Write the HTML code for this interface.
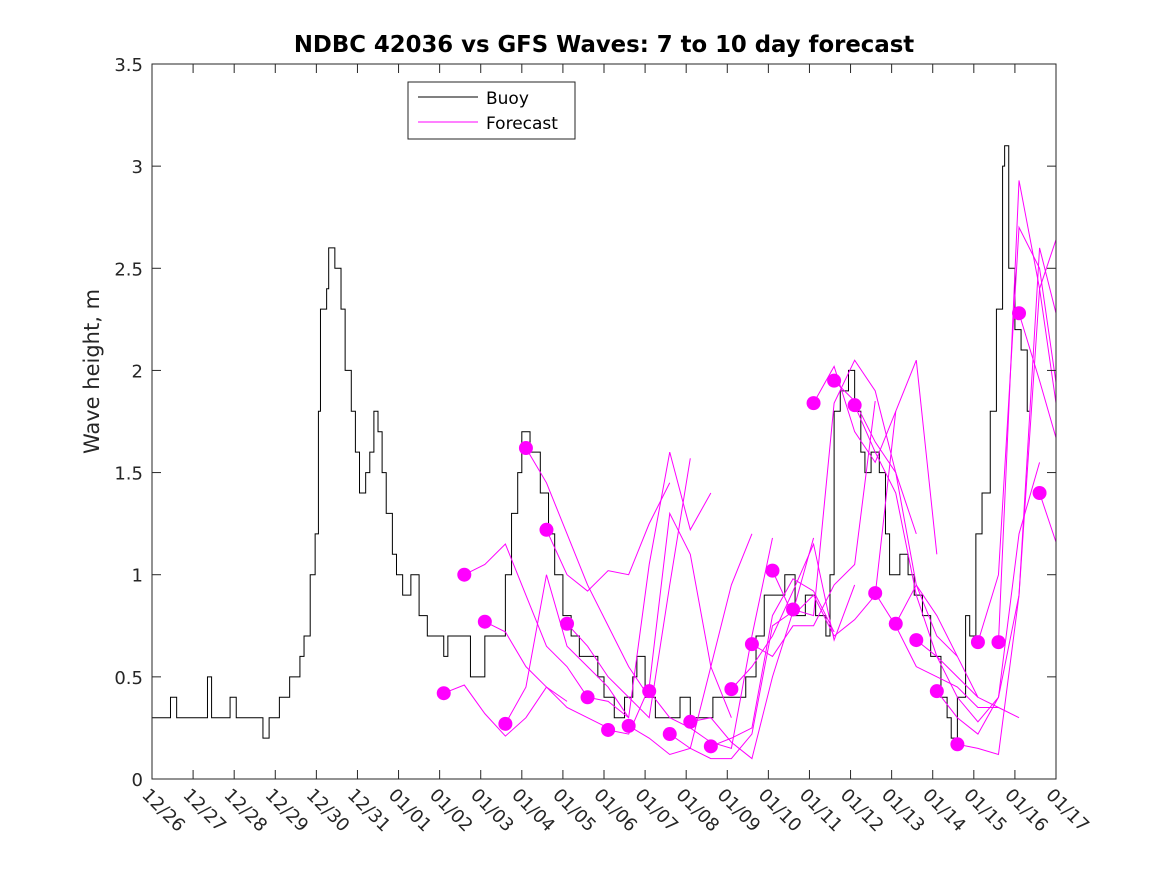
<!DOCTYPE html>
<html><head><meta charset="utf-8"><style>
body{margin:0;background:#fff;font-family:"DejaVu Sans",sans-serif}
svg text{font-family:"DejaVu Sans","Liberation Sans",sans-serif}
</style></head><body>
<svg id="c" width="1167" height="875" xmlns="http://www.w3.org/2000/svg"></svg>
<script>
const xTickLabels=["12/26","12/27","12/28","12/29","12/30","12/31","01/01","01/02","01/03","01/04","01/05","01/06","01/07","01/08","01/09","01/10","01/11","01/12","01/13","01/14","01/15","01/16","01/17"];
const yTicks=[0,0.5,1,1.5,2,2.5,3,3.5];
const yTickLabels=["0","0.5","1","1.5","2","2.5","3","3.5"];
const buoyDays=[0,0.45,0.6,1.3,1.35,1.45,1.9,2.05,2.7,2.85,3.1,3.35,3.6,3.7,3.85,3.97,4.05,4.1,4.25,4.3,4.45,4.6,4.7,4.85,4.95,5.05,5.2,5.3,5.4,5.5,5.6,5.7,5.85,5.95,6.1,6.3,6.5,6.7,7.0,7.1,7.2,7.75,8.1,8.35,8.6,8.75,8.9,9.0,9.2,9.45,9.65,9.8,10.0,10.2,10.4,10.65,10.85,11.0,11.25,11.5,11.7,11.8,12.0,12.25,12.5,12.85,13.1,13.35,13.65,13.95,14.2,14.45,14.7,14.9,15.15,15.4,15.65,15.9,16.15,16.4,16.5,16.6,16.75,16.95,17.1,17.25,17.35,17.5,17.7,17.85,17.95,18.2,18.4,18.55,18.75,18.95,19.2,19.35,19.45,19.6,19.8,19.9,20.05,20.2,20.4,20.55,20.7,20.75,20.85,21.0,21.15,21.3];
const buoyHeights=[0.3,0.4,0.3,0.3,0.5,0.3,0.4,0.3,0.2,0.3,0.4,0.5,0.6,0.7,1.0,1.2,1.8,2.3,2.4,2.6,2.5,2.3,2.0,1.8,1.6,1.4,1.5,1.6,1.8,1.7,1.5,1.3,1.1,1.0,0.9,1.0,0.8,0.7,0.7,0.6,0.7,0.5,0.7,0.7,1.0,1.3,1.5,1.7,1.6,1.4,1.2,1.0,0.8,0.7,0.6,0.6,0.5,0.4,0.3,0.4,0.5,0.6,0.4,0.3,0.3,0.4,0.3,0.3,0.4,0.4,0.4,0.5,0.7,0.9,0.9,1.0,0.8,0.9,0.8,0.7,1.0,1.8,1.9,2.0,1.8,1.6,1.5,1.6,1.5,1.2,1.0,1.1,1.0,0.9,0.8,0.6,0.4,0.3,0.2,0.4,0.8,0.7,1.2,1.4,1.8,2.3,3.0,3.1,2.5,2.2,2.1,1.8];
const fcStartDays=[7.1,7.6,8.1,8.6,9.1,9.6,10.1,10.6,11.1,11.6,12.1,12.6,13.1,13.6,14.1,14.6,15.1,15.6,16.1,16.6,17.1,17.6,18.1,18.6,19.1,19.6,20.1,20.6,21.1,21.6];
const fcValues=[
[0.42,0.46,0.32,0.21,0.30,0.45,0.38],
[1.00,1.05,1.15,0.90,0.65,0.55,0.40],
[0.77,0.72,0.55,0.45,0.35,0.30,0.25],
[0.27,0.45,1.00,0.65,0.55,0.45,0.30],
[1.62,1.45,1.20,0.95,0.75,0.55,0.40],
[1.22,1.00,0.92,1.02,1.00,1.25,1.45],
[0.76,0.65,0.50,0.40,0.30,0.95,1.57],
[0.40,0.38,0.30,1.05,1.60,1.22,1.40],
[0.24,0.22,0.45,1.30,1.10,0.55,0.30],
[0.26,0.20,0.12,0.15,0.55,0.95,1.20],
[0.43,0.30,0.25,0.18,0.15,0.70,1.18],
[0.22,0.15,0.10,0.10,0.22,0.75,0.82],
[0.28,0.30,0.18,0.10,0.50,0.82,1.18],
[0.16,0.20,0.25,0.80,0.98,0.92,0.72],
[0.44,0.55,0.70,0.92,1.15,0.68,0.95],
[0.66,0.60,0.75,0.75,0.95,1.05,1.85],
[1.02,0.80,0.90,0.70,0.78,0.90,1.80],
[0.83,0.80,1.84,2.05,1.90,1.50,1.20],
[1.84,2.02,1.70,1.55,1.80,2.05,1.10],
[1.95,1.85,1.65,1.50,0.95,0.70,0.60],
[1.83,1.60,1.40,0.90,0.60,0.50,0.40],
[0.91,0.75,0.55,0.50,0.45,0.35,0.35],
[0.76,0.95,0.80,0.60,0.40,0.35,0.30],
[0.68,0.60,0.40,0.28,0.40,1.20,1.55],
[0.43,0.30,0.22,0.40,0.90,2.40,2.70],
[0.17,0.15,0.12,0.90,2.60,2.20,1.60],
[0.67,1.00,2.70,2.50,1.80,1.20,0.80],
[0.67,2.93,2.40,1.70,1.30,0.90,0.60],
[2.28,1.95,1.60,1.20,0.90,0.70,0.60],
[1.40,1.10,0.80,0.60,0.50,0.40,0.40]];

const L=152,R=1056,T=64,B=779;
const xs=d=>L+(R-L)*d/22;
const ys=v=>B-(B-T)*v/3.5;
const NS="http://www.w3.org/2000/svg";
const svg=document.getElementById('c');
function mk(tag,attrs,parent){const e=document.createElementNS(NS,tag);for(const k in attrs)e.setAttribute(k,attrs[k]);(parent||svg).appendChild(e);return e;}

const defs=mk('defs',{});
const cp=mk('clipPath',{id:'clip'},defs);
mk('rect',{x:L,y:T,width:R-L,height:B-T},cp);

const bg=mk('rect',{x:L,y:T,width:R-L,height:B-T,fill:'#fff',stroke:'none'});



const g=mk('g',{'clip-path':'url(#clip)'});



let d='';
buoyDays.forEach((day,i)=>{
  const x=xs(day),y=ys(buoyHeights[i]);
  if(i===0)d+=`M${x},${y}`;else d+=`H${x}V${y}`;
});
d+=`H${xs(buoyDays[buoyDays.length-1]+0.05)}`;
const bl=mk('path',{d:d,fill:'none',stroke:'#000','stroke-width':1},g);



fcStartDays.forEach((s,i)=>{
  const pts=fcValues[i].map((v,j)=>`${xs(s+j*0.5)},${ys(v)}`).join(' ');
  const pl=mk('polyline',{points:pts,fill:'none',stroke:'#ff00ff','stroke-width':1},g);
  
  
});
fcStartDays.forEach((s,i)=>{
  const c=mk('circle',{cx:xs(s),cy:ys(fcValues[i][0]),r:7,fill:'#ff00ff'},g);
  
  
});

const box=mk('rect',{x:L,y:T,width:R-L,height:B-T,fill:'none',stroke:'#262626','stroke-width':1});



xTickLabels.forEach((lab,i)=>{
  const x=xs(i);
  mk('line',{x1:x,y1:B,x2:x,y2:B-9,stroke:'#262626'});
  mk('line',{x1:x,y1:T,x2:x,y2:T+9,stroke:'#262626'});
  const t=mk('text',{x:0,y:0,'font-size':18,fill:'#262626','text-anchor':'start',transform:`translate(${x-11},${B+17}) rotate(45)`});
  t.textContent=lab;
  
  
});
yTicks.forEach((v,i)=>{
  const y=ys(v);
  mk('line',{x1:L,y1:y,x2:L+9,y2:y,stroke:'#262626'});
  mk('line',{x1:R,y1:y,x2:R-9,y2:y,stroke:'#262626'});
  const t=mk('text',{x:L-9,y:y+7,'font-size':18,fill:'#262626','text-anchor':'end'});
  t.textContent=yTickLabels[i];
  
  
});

const title=mk('text',{x:(L+R)/2,y:52,'font-size':22.8,'font-weight':'bold','text-anchor':'middle',fill:'#000'});
title.textContent='NDBC 42036 vs GFS Waves: 7 to 10 day forecast';



const yl=mk('text',{x:0,y:0,'font-size':21,'text-anchor':'middle',fill:'#262626',transform:`translate(99,${(T+B)/2-50}) rotate(-90)`});
yl.textContent='Wave height, m';



const lg=mk('g',{});


mk('rect',{x:408,y:82,width:167,height:57,fill:'#fff',stroke:'#262626'},lg);
mk('line',{x1:418,y1:97,x2:478,y2:97,stroke:'#000'},lg);
const t1=mk('text',{x:486,y:104,'font-size':17,fill:'#000'},lg);
t1.textContent='Buoy';


mk('line',{x1:418,y1:122,x2:478,y2:122,stroke:'#ff00ff'},lg);
const t2=mk('text',{x:486,y:129,'font-size':17,fill:'#000'},lg);
t2.textContent='Forecast';


</script>
</body></html>
